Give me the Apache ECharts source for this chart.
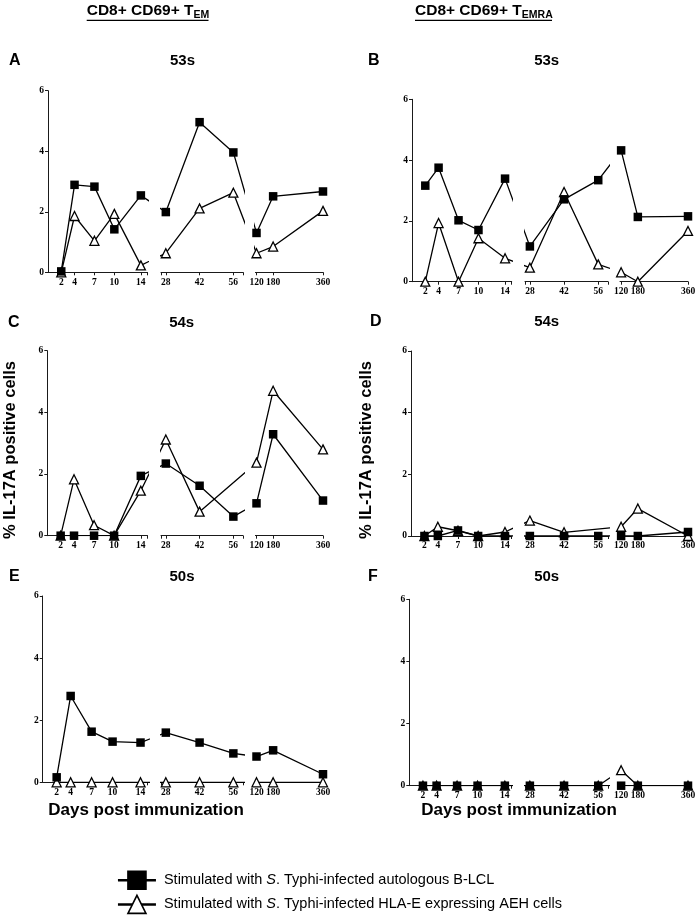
<!DOCTYPE html>
<html><head><meta charset="utf-8">
<script src="https://cdn.jsdelivr.net/npm/echarts@6/dist/echarts.min.js"></script>
<style>html,body{margin:0;padding:0;background:#fff}#c{width:700px;height:921px}</style>
</head><body><div id="c"></div>
<script>
// ---------- DATA ----------
const days = [2, 4, 7, 10, 14, 28, 42, 56, 120, 180, 360];
const xTickLabels = [[2, 4, 7, 10, 14], [28, 42, 56], [120, 180, 360]];
const segRanges = [[0, 15], [26, 60], [116, 360]];
const panelLetters = ['A', 'B', 'C', 'D', 'E', 'F'];
const panelTitles = ['53s', '53s', '54s', '54s', '50s', '50s'];
const colHeaders = ['CD8+ CD69+ T', 'CD8+ CD69+ T'];
const colSubs = ['EM', 'EMRA'];
const seriesNames = ['Stimulated with S. Typhi-infected autologous B-LCL',
                     'Stimulated with S. Typhi-infected HLA-E expressing AEH cells'];
const yTitle = '% IL-17A positive cells';
const xTitle = 'Days post immunization';

const sqA  = [0.03, 2.89, 2.83, 1.42, 2.54, 1.99, 4.96, 3.96, 1.30, 2.51, 2.67];
const triA = [0, 1.86, 1.04, 1.93, 0.23, 0.63, 2.11, 2.63, 0.63, 0.85, 2.03];
const sqB  = [3.16, 3.75, 2.02, 1.70, 3.39, 1.16, 2.71, 3.34, 4.32, 2.13, 2.15];
const triB = [0, 1.93, 0, 1.43, 0.77, 0.46, 2.95, 0.57, 0.31, 0, 1.67];
const sqC  = [0, 0, 0, 0, 1.94, 2.34, 1.62, 0.62, 1.05, 3.29, 1.14];
const triC = [0, 1.83, 0.34, 0, 1.46, 3.12, 0.78, null, 2.37, 4.70, 2.80];
const sqD  = [0, 0, 0.18, 0, 0, 0, 0, 0, 0, 0, 0.13];
const triD = [0, 0.30, 0.17, 0, 0.13, 0.50, 0.12, null, 0.30, 0.89, 0];
const sqE  = [0.16, 2.78, 1.63, 1.31, 1.28, 1.60, 1.28, 0.93, 0.83, 1.03, 0.26];
const triE = [0, 0, 0, 0, 0, 0, 0, 0, 0, 0, 0];
const sqF  = [0, 0, 0, 0, 0, 0, 0, 0, 0, 0, 0];
const triF = [0, 0, 0, 0, 0, 0, 0, 0, 0.50, 0, 0];

// ---------- LAYOUT / STYLE ----------
const panelSq = [sqA, sqB, sqC, sqD, sqE, sqF];
const panelTri = [triA, triB, triC, triD, triE, triF];
const panelYAxisX = [48, 412, 47.3, 411, 42.7, 409.3];
const panelTop = [90.7, 99.3, 350.7, 351, 596, 599.3];
const panelBottom = [272.3, 281.7, 535.7, 536, 782.3, 785.7];
const colSegLeft = [[null, 161, 255.4], [null, 525, 620]];
const colSegRight = [[147.5, 243, 323], [511.7, 608, 688]];
const segTickExtra = [[15], [26, 60], []];
const SANS = 'Liberation Sans', SERIF = 'Liberation Serif';

const chart = echarts.init(document.getElementById('c'), null, {renderer: 'canvas'});

function gridIdx(p, s) { return p * 3 + s; }
function segOf(d) { for (let s = 0; s < 3; s++) if (d >= segRanges[s][0] && d <= segRanges[s][1]) return s; return -1; }

function segPoints(vals, s) {
  const lo = segRanges[s][0], hi = segRanges[s][1];
  const pts = []; let prev = null, next = null;
  for (let i = 0; i < days.length; i++) {
    if (vals[i] == null) continue;
    if (days[i] < lo) prev = i;
    else if (days[i] > hi) { if (next === null) next = i; }
    else pts.push([days[i], vals[i]]);
  }
  return {pts, prev, next};
}

const grids = [], xAxes = [], yAxes = [], series = [];
for (let p = 0; p < 6; p++) {
  const col = p % 2;
  for (let s = 0; s < 3; s++) {
    const left = s === 0 ? panelYAxisX[p] : colSegLeft[col][s];
    const right = colSegRight[col][s];
    grids.push({left: left, top: panelTop[p], width: right - left,
                height: panelBottom[p] - panelTop[p], containLabel: false, outerBoundsMode: 'none'});
    const g = gridIdx(p, s);
    xAxes.push({
      gridIndex: g, type: 'value', min: segRanges[s][0], max: segRanges[s][1],
      axisLine: {show: true, lineStyle: {color: '#1a1a1a', width: 1}},
      axisTick: {show: true, length: 3, inside: false, lineStyle: {color: '#1a1a1a', width: 1},
                 customValues: xTickLabels[s].concat(segTickExtra[s])},
      axisLabel: {show: true, customValues: xTickLabels[s], fontFamily: SERIF, fontWeight: 'bold',
                  fontSize: 9.5, color: '#000', margin: 5},
      splitLine: {show: false}
    });
    yAxes.push({
      gridIndex: g, type: 'value', min: 0, max: 6, interval: 2, show: s === 0,
      axisLine: {show: true, lineStyle: {color: '#1a1a1a', width: 1}},
      axisTick: {show: true, length: 3, inside: false, lineStyle: {color: '#1a1a1a', width: 1}},
      axisLabel: {show: true, fontFamily: SERIF, fontWeight: 'bold', fontSize: 9.5, color: '#000', margin: 4},
      splitLine: {show: false}
    });
    const tri = segPoints(panelTri[p], s).pts;
    const sq = segPoints(panelSq[p], s).pts;
    series.push({
      name: seriesNames[1], type: 'line', xAxisIndex: g, yAxisIndex: g, data: tri, clip: true,
      symbol: 'triangle', symbolSize: 9, showAllSymbol: true, z: 2, silent: true,
      lineStyle: {color: '#000', width: 1.3},
      itemStyle: {color: '#fff', borderColor: '#000', borderWidth: 1.3}
    });
    series.push({
      name: seriesNames[0], type: 'line', xAxisIndex: g, yAxisIndex: g, data: sq, clip: true,
      symbol: 'rect', symbolSize: 8.5, showAllSymbol: true, z: 3, silent: true,
      lineStyle: {color: '#000', width: 1.3},
      itemStyle: {color: '#000', borderColor: '#000', borderWidth: 0}
    });
  }
}

// text graphics
const graphic = [];
const headerX = [86.7, 415];
const underline = [[86.7, 208.5], [415, 552]];
for (let c = 0; c < 2; c++) {
  graphic.push({type: 'text', left: headerX[c], top: 3, style: {
    text: '{m|' + colHeaders[c] + '}{s|' + colSubs[c] + '}',
    rich: {m: {fontFamily: SANS, fontWeight: 'bold', fontSize: 15.5, fill: '#000', lineHeight: 20},
           s: {fontFamily: SANS, fontWeight: 'bold', fontSize: 10.5, fill: '#000', lineHeight: 12, verticalAlign: 'bottom'}}
  }});
  graphic.push({type: 'line', shape: {x1: underline[c][0], y1: 20.3, x2: underline[c][1], y2: 20.3},
                style: {stroke: '#000', lineWidth: 1.3}});
}
const letterX = [9, 368, 8, 370, 9, 368];
const letterY = [61, 61, 322.7, 322, 577, 577];
const titleX = [182.5, 546.7, 181.7, 546.7, 182, 546.7];
for (let p = 0; p < 6; p++) {
  graphic.push({type: 'text', x: letterX[p], y: letterY[p], style: {text: panelLetters[p], fontFamily: SANS,
    fontWeight: 'bold', fontSize: 16, fill: '#000', align: 'left', verticalAlign: 'middle'}});
  graphic.push({type: 'text', x: titleX[p], y: letterY[p], style: {text: panelTitles[p], fontFamily: SANS,
    fontWeight: 'bold', fontSize: 15, fill: '#000', align: 'center', verticalAlign: 'middle'}});
}
const yTitleX = [10, 366];
for (let c = 0; c < 2; c++) {
  graphic.push({type: 'text', x: yTitleX[c], y: 450, rotation: Math.PI / 2, style: {text: yTitle,
    fontFamily: SANS, fontWeight: 'bold', fontSize: 16.5, fill: '#000', align: 'center', verticalAlign: 'middle'}});
}
const xTitleX = [146, 519];
for (let c = 0; c < 2; c++) {
  graphic.push({type: 'text', x: xTitleX[c], y: 810, style: {text: xTitle,
    fontFamily: SANS, fontWeight: 'bold', fontSize: 17, fill: '#000', align: 'center', verticalAlign: 'middle'}});
}

const option = {
  animation: false,
  backgroundColor: '#fff',
  grid: grids, xAxis: xAxes, yAxis: yAxes, series: series, graphic: graphic,
  legend: {
    data: seriesNames, orient: 'vertical', left: 111.7, top: 865.5,
    itemWidth: 38, itemHeight: 22.5, itemGap: 4.5, selectedMode: false,
    formatter: function (name) { return name.replace('S.', '{i|S}.'); },
    textStyle: {fontFamily: SANS, fontSize: 14.5, color: '#000', padding: [0, 0, 0, 3],
      rich: {i: {fontFamily: SANS, fontStyle: 'italic', fontSize: 14.5, color: '#000'}}},
    lineStyle: {width: 2.5},
    itemStyle: {borderWidth: 1.6}
  }
};
chart.setOption(option);

// add cross-gap neighbour points, converted through the axes' own scales
const series2 = [];
for (let p = 0; p < 6; p++) {
  for (let s = 0; s < 3; s++) {
    const g = gridIdx(p, s);
    [panelTri[p], panelSq[p]].forEach(function (vals) {
      const r = segPoints(vals, s);
      const pts = r.pts.slice();
      [[r.prev, 'prev'], [r.next, 'next']].forEach(function (nb) {
        const i = nb[0];
        if (i === null) return;
        const so = segOf(days[i]);
        const px = chart.convertToPixel({xAxisIndex: gridIdx(p, so)}, days[i]);
        const xv = chart.convertFromPixel({xAxisIndex: g}, px);
        if (nb[1] === 'prev') pts.unshift([xv, vals[i]]); else pts.push([xv, vals[i]]);
      });
      series2.push({data: pts});
    });
  }
}
chart.setOption({series: series2});
</script>
</body></html>
